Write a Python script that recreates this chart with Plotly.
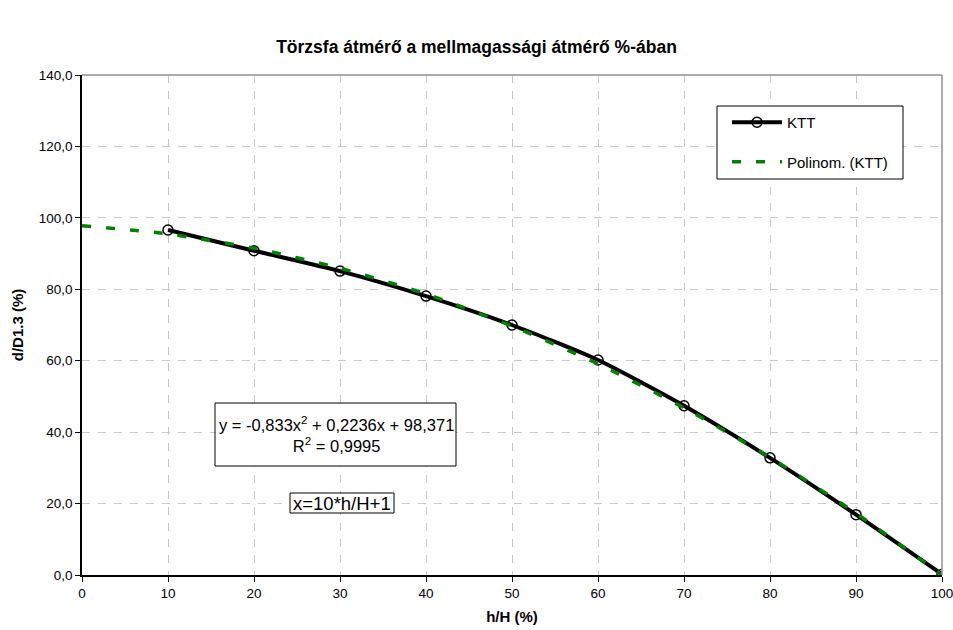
import plotly.graph_objects as go

# KTT measured points
h_pct = [10, 20, 30, 40, 50, 60, 70, 80, 90, 100]
ktt = [96.6, 90.8, 85.1, 78.1, 70.0, 60.2, 47.4, 32.8, 16.9, 0.2]

# Polynomial trendline values
trend_h = [0, 10, 20, 30, 40, 50, 60, 70, 80, 90, 100]
trend_y = [97.8, 95.5, 91.5, 85.9, 78.7, 69.7, 59.1, 46.8, 32.9, 17.3, 0.0]

x_ticks = [0, 10, 20, 30, 40, 50, 60, 70, 80, 90, 100]
y_ticks = [0, 20, 40, 60, 80, 100, 120, 140]
y_tick_text = ["0,0", "20,0", "40,0", "60,0", "80,0", "100,0", "120,0", "140,0"]

FONT = "Liberation Sans, Arial, sans-serif"
L, R, T, B = 82, 942, 75, 575  # plot area in px
W, H = 953, 630


def px(xp):
    return (xp - L) / (R - L)


def py(yp):
    return (B - yp) / (B - T)


fig = go.Figure()
fig.add_trace(go.Scatter(
    x=h_pct, y=ktt, name="KTT", mode="lines+markers",
    line=dict(color="black", width=4, shape="spline", smoothing=0.6),
    marker=dict(symbol="circle-open", size=10, color="black", line=dict(width=1.5, color="black")),
    legendgroup="a",
))
fig.add_trace(go.Scatter(
    x=trend_h, y=trend_y, name="Polinom. (KTT)", mode="lines",
    line=dict(color="#008000", width=3.5, dash="9px,15px", shape="spline", smoothing=0.6),
    legendgroup="b",
))

fig.update_layout(
    width=W, height=H,
    margin=dict(l=L, r=W - R, t=T, b=H - B, autoexpand=False),
    paper_bgcolor="white", plot_bgcolor="white",
    font=dict(family=FONT, size=13.5, color="black"),
    title=dict(text="<b>Törzsfa átmérő a mellmagassági átmérő %-ában</b>",
               x=0.5, xanchor="center", y=1 - 47 / H, yanchor="middle",
               font=dict(size=17.5)),
    showlegend=True,
    legend=dict(x=px(727), y=py(106), xanchor="left", yanchor="top",
                borderwidth=0, bgcolor="rgba(0,0,0,0)",
                traceorder="grouped", tracegroupgap=17, itemwidth=50,
                font=dict(size=15)),
    xaxis=dict(range=[0, 100], tickvals=x_ticks, ticktext=[str(v) for v in x_ticks],
               automargin=False, ticklabeloverflow="allow",
               showgrid=True, gridcolor="#c8c8c8", griddash="8px,8px", gridwidth=1,
               showline=True, linecolor="black", linewidth=1.5, mirror=False,
               ticks="outside", ticklen=5, tickcolor="black",
               title=dict(text="<b>h/H (%)</b>", standoff=12, font=dict(size=15)),
               zeroline=False),
    yaxis=dict(range=[0, 140], tickvals=y_ticks, ticktext=y_tick_text,
               automargin=False, ticklabeloverflow="allow",
               showgrid=True, gridcolor="#c8c8c8", griddash="8px,8px", gridwidth=1,
               showline=True, linecolor="black", linewidth=1.5,
               ticks="outside", ticklen=5, tickcolor="black",
               title=dict(text="<b>d/D1.3 (%)</b>", standoff=12, font=dict(size=15)),
               zeroline=False),
)

# gray plot-area border on top and right
fig.add_shape(type="line", xref="paper", yref="paper", x0=0, x1=1, y0=1, y1=1,
              line=dict(color="#909090", width=1.5))
fig.add_shape(type="line", xref="paper", yref="paper", x0=1, x1=1, y0=0, y1=1,
              line=dict(color="#909090", width=1.5))

# legend frame
fig.add_shape(type="rect", xref="paper", yref="paper",
              x0=px(717), x1=px(903), y0=py(179), y1=py(106),
              line=dict(color="black", width=1), fillcolor="white", layer="above")

# equation box
fig.add_shape(type="rect", xref="paper", yref="paper",
              x0=px(215), x1=px(456), y0=py(466), y1=py(403),
              line=dict(color="black", width=1), fillcolor="white", layer="above")
fig.add_annotation(
    xref="paper", yref="paper", x=px(336), y=py(434.5), xanchor="center", yanchor="middle",
    text="y = -0,833x<sup>2</sup> + 0,2236x + 98,371<br>R<sup>2</sup> = 0,9995",
    showarrow=False, align="center", font=dict(size=16.5),
)
# x definition box
fig.add_shape(type="rect", xref="paper", yref="paper",
              x0=px(290), x1=px(394), y0=py(513), y1=py(493),
              line=dict(color="black", width=1), fillcolor="white", layer="above")
fig.add_annotation(
    xref="paper", yref="paper", x=px(342), y=py(503), xanchor="center", yanchor="middle",
    text="x=10*h/H+1",
    showarrow=False, align="center", font=dict(size=18.5),
)

fig.write_html("out.html")
